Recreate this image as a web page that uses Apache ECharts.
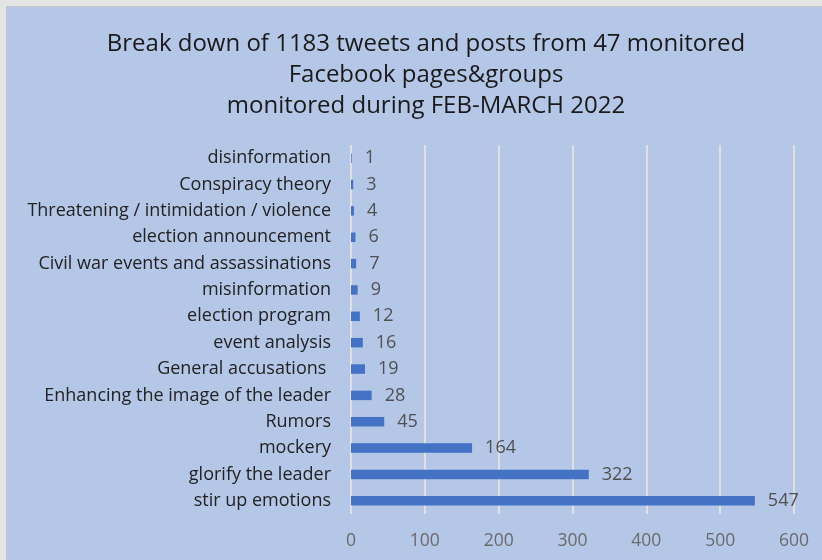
<!DOCTYPE html>
<html>
<head>
<meta charset="utf-8">
<script src="https://cdn.jsdelivr.net/npm/echarts@6/dist/echarts.min.js"></script>
<style>
  html, body { margin: 0; padding: 0; background: #e4e4e4; }
  #frame {
    position: absolute; left: 6px; top: 6px; width: 822px; height: 560px;
    background: #b4c7e7; border-left: 1px solid #c6c6c6; border-top: 1px solid #c6c6c6;
  }
  #chart { position: absolute; left: 0; top: 0; width: 822px; height: 560px; }
</style>
</head>
<body>
<div id="frame"></div>
<div id="chart"></div>
<script>
// Categories listed bottom-to-top (ECharts category y-axis starts at the bottom)
const categories = [
  'stir up emotions',
  'glorify the leader',
  'mockery',
  'Rumors',
  'Enhancing the image of the leader',
  'General accusations ',
  'event analysis',
  'election program',
  'misinformation',
  'Civil war events and assassinations',
  'election announcement',
  'Threatening / intimidation / violence',
  'Conspiracy theory',
  'disinformation'
];
const counts = [547, 322, 164, 45, 28, 19, 16, 12, 9, 7, 6, 4, 3, 1];
const xTicks = [0, 100, 200, 300, 400, 500, 600];

const titleLines = [
  'Break down of 1183 tweets and posts from 47 monitored',
  'Facebook pages&groups',
  'monitored during FEB-MARCH 2022'
];

const FONT = '"Open Sans"';
const chart = echarts.init(document.getElementById('chart'), null, { renderer: 'canvas' });

chart.setOption({
  backgroundColor: 'transparent',
  animation: false,
  textStyle: { fontFamily: FONT },
  title: {
    text: titleLines.join('\n'),
    left: 421,
    top: 24,
    textAlign: 'center',
    textStyle: {
      fontFamily: FONT,
      fontSize: 24,
      fontWeight: 'normal',
      color: '#1a1a1a',
      lineHeight: 31
    }
  },
  grid: { left: 351, right: 28, top: 145, bottom: 46, containLabel: false },
  xAxis: {
    type: 'value',
    min: xTicks[0],
    max: xTicks[xTicks.length - 1],
    interval: 100,
    axisLine: { show: false },
    axisTick: { show: false },
    axisLabel: { color: '#6a6a6a', fontSize: 17.5, fontFamily: FONT, margin: 18 },
    splitLine: { show: true, lineStyle: { color: '#e0e0e0', width: 2 } }
  },
  yAxis: {
    type: 'category',
    data: categories,
    axisLine: { show: false },
    axisTick: { show: false },
    axisLabel: { color: '#222222', fontSize: 18, fontFamily: FONT, margin: 20 }
  },
  series: [{
    type: 'bar',
    data: counts,
    barWidth: '36%',
    itemStyle: { color: '#4472c4' },
    label: {
      show: true,
      position: 'right',
      distance: 13,
      color: '#505050',
      fontSize: 18,
      fontFamily: FONT
    }
  }]
});
</script>
</body>
</html>
